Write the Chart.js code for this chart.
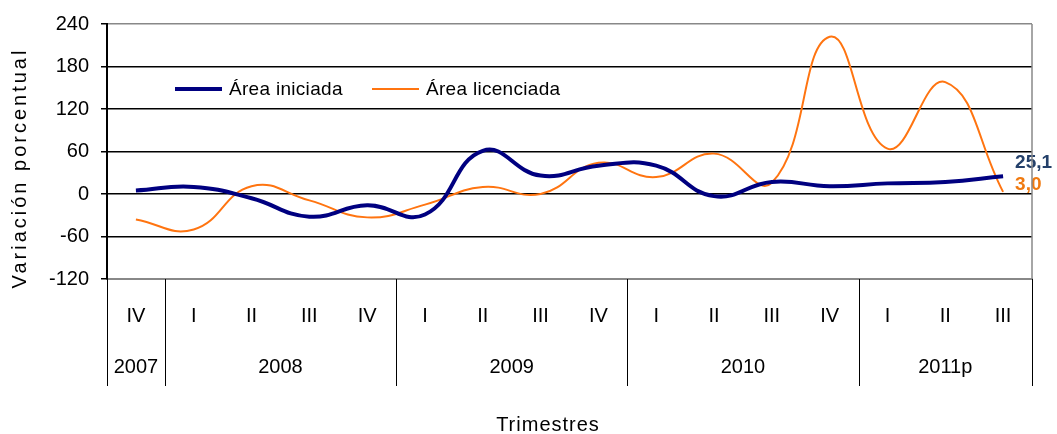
<!DOCTYPE html>
<html>
<head>
<meta charset="utf-8">
<script src="https://cdn.jsdelivr.net/npm/chart.js@4.4.1/dist/chart.umd.min.js"></script>
<style>
  html, body { margin: 0; background: #fff; }
  #wrap { width: 1057px; height: 434px; }
</style>
</head>
<body>
<div id="wrap"><canvas id="grafica"></canvas></div>
<script>
// Datos (variacion porcentual anual por trimestre)
const trimestres = ["IV", "I", "II", "III", "IV", "I", "II", "III", "IV", "I", "II", "III", "IV", "I", "II", "III"];
const anios = ["2007", "2008", "2009", "2010", "2011p"];
const trimestresPorAnio = [1, 4, 4, 4, 3];
const areaIniciada = [5, 10, -6, -32, -16, -29, 61, 26, 40, 40, -3, 17, 11, 15, 17, 25.1];
const areaLicenciada = [-36, -50, 11, -9, -33, -15, 10, 0, 44, 24, 57, 16, 222, 64, 158, 3.0];
const ticksY = [-120, -60, 0, 60, 120, 180, 240];

const FUENTE = "'Liberation Sans', Arial, sans-serif";
const AZUL = "#000080";
const NARANJA = "#ff7410";

// Leyenda dentro del area de trazado, arriba a la izquierda
const leyenda = {
  id: "leyenda",
  afterDraw(chart) {
    const { ctx } = chart;
    const pos = [175, 372];
    ctx.save();
    ctx.font = `19px ${FUENTE}`;
    ctx.letterSpacing = "0.3px";
    ctx.textBaseline = "middle";
    chart.data.datasets.forEach((ds, i) => {
      const x = pos[i];
      ctx.strokeStyle = ds.borderColor;
      ctx.lineWidth = ds.borderWidth;
      ctx.beginPath();
      ctx.moveTo(x, 89);
      ctx.lineTo(x + 47, 89);
      ctx.stroke();
      ctx.fillStyle = "#000";
      ctx.fillText(ds.label, x + 54, 90);
    });
    ctx.restore();
  }
};

// Etiquetas de anio, separadores y borde derecho
const ejeAnios = {
  id: "ejeAnios",
  afterDraw(chart) {
    const { ctx, chartArea } = chart;
    const x = chart.scales.x;
    const borde = i => {
      if (i <= 0) return chartArea.left;
      if (i >= trimestres.length) return chartArea.right;
      return (x.getPixelForValue(i - 1) + x.getPixelForValue(i)) / 2;
    };
    ctx.save();
    ctx.strokeStyle = "#888";
    ctx.lineWidth = 1.5;
    ctx.beginPath();
    ctx.moveTo(chartArea.right, chartArea.top);
    ctx.lineTo(chartArea.right, chartArea.bottom);
    ctx.stroke();

    ctx.strokeStyle = "#000";
    ctx.lineWidth = 1;
    ctx.font = `20px ${FUENTE}`;
    ctx.fillStyle = "#000";
    ctx.textAlign = "center";
    ctx.textBaseline = "middle";
    let inicio = 0;
    const lineas = [0];
    anios.forEach((anio, i) => {
      const fin = inicio + trimestresPorAnio[i];
      lineas.push(fin);
      ctx.fillText(anio, (borde(inicio) + borde(fin)) / 2, 367);
      inicio = fin;
    });
    lineas.forEach(i => {
      const px = Math.round(borde(i)) + 0.5;
      ctx.beginPath();
      ctx.moveTo(px, chartArea.bottom);
      ctx.lineTo(px, 386);
      ctx.stroke();
    });

    // Titulos de ejes
    ctx.font = `20px ${FUENTE}`;
    ctx.letterSpacing = "1px";
    ctx.fillText("Trimestres", 548, 425);
    ctx.translate(20, 168);
    ctx.rotate(-Math.PI / 2);
    ctx.letterSpacing = "3px";
    ctx.fillText("Variación porcentual", 0, 0);
    ctx.restore();
  }
};

// Valores del ultimo trimestre
const ultimoValor = {
  id: "ultimoValor",
  afterDatasetsDraw(chart) {
    const { ctx } = chart;
    const colores = ["#24406a", "#f07a10"];
    const desplaz = [-13, -7];
    ctx.save();
    ctx.font = `bold 19px ${FUENTE}`;
    ctx.textBaseline = "middle";
    chart.data.datasets.forEach((ds, i) => {
      const pts = chart.getDatasetMeta(i).data;
      const p = pts[pts.length - 1];
      const v = ds.data[ds.data.length - 1];
      ctx.fillStyle = colores[i];
      ctx.fillText(v.toFixed(1).replace(".", ","), p.x + 12, p.y + desplaz[i]);
    });
    ctx.restore();
  }
};

new Chart(document.getElementById("grafica"), {
  type: "line",
  data: {
    labels: trimestres,
    datasets: [
      {
        label: "Área iniciada",
        data: areaIniciada,
        borderColor: AZUL,
        borderWidth: 4,
        pointRadius: 0,
        tension: 0.45
      },
      {
        label: "Área licenciada",
        data: areaLicenciada,
        borderColor: NARANJA,
        borderWidth: 2,
        pointRadius: 0,
        tension: 0.45
      }
    ]
  },
  options: {
    responsive: true,
    maintainAspectRatio: false,
    animation: false,
    events: [],
    layout: { padding: { top: 23, right: 25, left: 0, bottom: 0 } },
    plugins: { legend: { display: false }, tooltip: { enabled: false } },
    scales: {
      x: {
        offset: true,
        grid: { drawOnChartArea: false, drawTicks: false, offset: true },
        border: { color: "#888", width: 2 },
        ticks: { color: "#000", font: { family: FUENTE, size: 20 }, padding: 25, maxRotation: 0, autoSkip: false },
        afterFit: scale => { scale.height = 155; }
      },
      y: {
        min: ticksY[0],
        max: ticksY[ticksY.length - 1],
        afterBuildTicks: scale => { scale.ticks = ticksY.map(v => ({ value: v })); },
        grid: {
          color: ctx => (ctx.tick && ctx.tick.value === ticksY[ticksY.length - 1] ? "#888" : "#000"),
          lineWidth: 1.5,
          tickLength: 6,
          tickColor: "#000"
        },
        border: { color: "#000", width: 2 },
        ticks: { color: "#000", font: { family: FUENTE, size: 20 }, padding: 12 },
        afterFit: scale => { scale.width = 107; }
      }
    }
  },
  plugins: [leyenda, ejeAnios, ultimoValor]
});
</script>
</body>
</html>
